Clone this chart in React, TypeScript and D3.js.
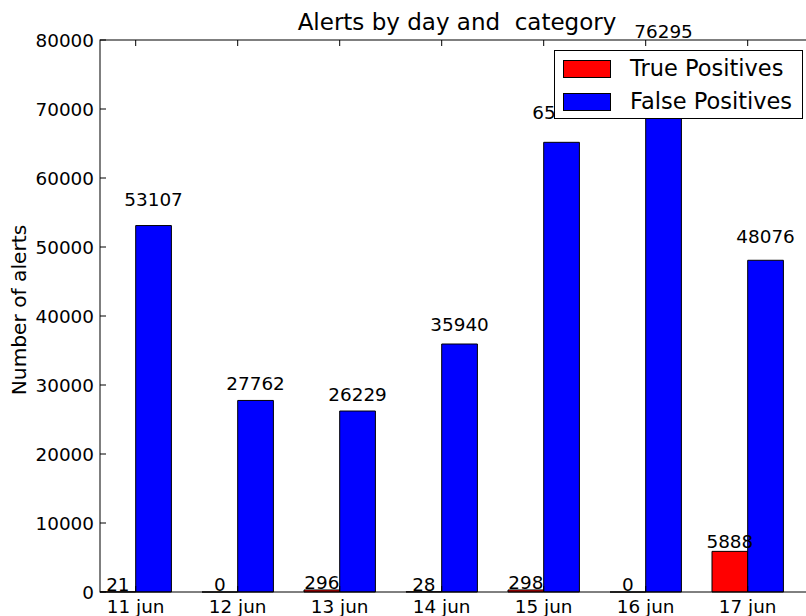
import React from "react";
import * as d3 from "d3";

const categories = ["11 jun", "12 jun", "13 jun", "14 jun", "15 jun", "16 jun", "17 jun"];
const truePositives = [21, 0, 296, 28, 298, 0, 5888];
const falsePositives = [53107, 27762, 26229, 35940, 65170, 76295, 48076];
const yTicks = [0, 10000, 20000, 30000, 40000, 50000, 60000, 70000, 80000];
const seriesNames = ["True Positives", "False Positives"];
const seriesColors = ["#ff0000", "#0000ff"];

const W = 806;
const H = 616;
const FONT = "DejaVu Sans, sans-serif";
const left = 100, top = 40, bottom = 592, right = 814;
const barW = 0.35;

export default function App() {
  const x = d3.scaleLinear().domain([0, 7]).range([left, right]);
  const y = d3.scaleLinear().domain([0, 80000]).range([bottom, top]);
  const tickFs = 18.4;
  const titleFs = 23;
  const legFs = 22.5;

  const barPath = (x0: number, v: number) => {
    const p = d3.path();
    const xa = x(x0), xb = x(x0 + barW), ya = y(0), yb = y(v);
    p.moveTo(xa, ya);
    p.lineTo(xa, yb);
    p.lineTo(xb, yb);
    p.lineTo(xb, ya);
    p.closePath();
    return p.toString();
  };

  const series = [truePositives, falsePositives];

  return (
    <svg width={W} height={H} style={{ position: "absolute", left: 0, top: 0, background: "#fff" }} fontFamily={FONT}>
      <rect x={0} y={0} width={W} height={H} fill="#fff" />
      {series.map((vals, s) =>
        vals.map((v, i) => (
          <path key={`b${s}-${i}`} d={barPath(i + s * barW, v)} fill={seriesColors[s]} stroke="#000" strokeWidth={1} />
        ))
      )}
      {series.map((vals, s) =>
        vals.map((v, i) => (
          <text key={`l${s}-${i}`} x={x(i + s * barW + barW / 2)} y={y(1.05 * v) - 1} textAnchor="middle" fontSize={tickFs} fill="#000">
            {v}
          </text>
        ))
      )}
      <rect x={left} y={top} width={right - left} height={bottom - top} fill="none" stroke="#000" strokeWidth={1} />
      {yTicks.map((t) => (
        <g key={`yt${t}`}>
          <line x1={left} x2={left + 6} y1={y(t)} y2={y(t)} stroke="#000" />
          <line x1={right} x2={right - 6} y1={y(t)} y2={y(t)} stroke="#000" />
          <text x={left - 6} y={y(t) + tickFs * 0.36} textAnchor="end" fontSize={tickFs} fill="#000">{t}</text>
        </g>
      ))}
      {categories.map((c, i) => (
        <g key={`xt${i}`}>
          <line x1={x(i + barW)} x2={x(i + barW)} y1={bottom} y2={bottom - 6} stroke="#000" />
          <line x1={x(i + barW)} x2={x(i + barW)} y1={top} y2={top + 6} stroke="#000" />
          <text x={x(i + barW)} y={613} textAnchor="middle" fontSize={tickFs} fill="#000">{c}</text>
        </g>
      ))}
      <text x={(left + right) / 2} y={30} textAnchor="middle" fontSize={titleFs} fill="#000" style={{ whiteSpace: "pre" }}>
        {"Alerts by day and  category"}
      </text>
      <text transform={`translate(26,${(top + bottom) / 2 - 6}) rotate(-90)`} textAnchor="middle" fontSize={20.2} fill="#000">
        Number of alerts
      </text>
      <g>
        <rect x={554.5} y={50.5} width={248} height={68} fill="#fff" stroke="#000" strokeWidth={1} />
        {seriesNames.map((n, i) => (
          <g key={`lg${i}`}>
            <rect x={563.5} y={60.5 + i * 33} width={47} height={17} fill={seriesColors[i]} stroke="#000" strokeWidth={1} />
            <text x={630} y={76 + i * 33} fontSize={legFs} fill="#000">{n}</text>
          </g>
        ))}
      </g>
    </svg>
  );
}
